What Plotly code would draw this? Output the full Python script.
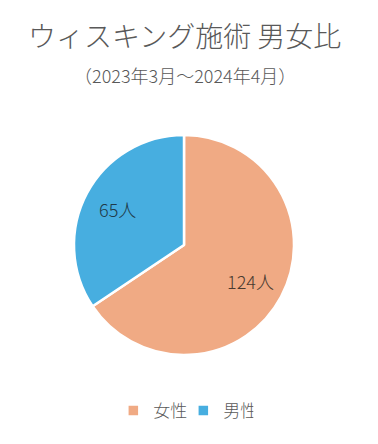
import math
import plotly.graph_objects as go

labels = ["女性", "男性"]
values = [124, 65]
texts = ["124人", "65人"]
colors = ["#F0AA84", "#47AEE0"]
text_colors = ["#4A3A30", "#1F3A4A"]

W, H = 378, 444
cx, cy, r = 184, 245, 110

fig = go.Figure(go.Pie(
    labels=labels,
    values=values,
    textinfo="none",
    marker=dict(colors=colors, line=dict(color="white", width=2.5)),
    sort=False,
    direction="clockwise",
    rotation=0,
    hole=0,
    domain=dict(x=[(cx - r) / W, (cx + r) / W], y=[1 - (cy + r) / H, 1 - (cy - r) / H]),
))

# slice labels placed at mid-angle of each slice
annotations = []
total = sum(values)
start = 0.0
for v, t, c in zip(values, texts, text_colors):
    span = v / total * 360
    mid = math.radians(start + span / 2)
    start += span
    d = 0.69 * r
    px = cx + d * math.sin(mid)
    py = cy - d * math.cos(mid)
    annotations.append(dict(text=t, x=px / W, y=1 - py / H, xref="paper", yref="paper",
                            showarrow=False, xanchor="center", yanchor="middle",
                            font=dict(size=18, color=c, family="Noto Sans CJK JP", weight=300)))

annotations += [
    dict(text="ウィスキング施術 男女比", x=0.487, y=1 - 35 / H, xref="paper", yref="paper",
         showarrow=False, xanchor="center", yanchor="middle",
         font=dict(size=28, color="#595959", family="Noto Sans CJK JP", weight=300)),
    dict(text="（2023年3月～2024年4月）", x=0.49, y=1 - 75 / H, xref="paper", yref="paper",
         showarrow=False, xanchor="center", yanchor="middle",
         font=dict(size=18, color="#595959", family="Noto Sans CJK JP", weight=300)),
]

fig.update_layout(
    width=W, height=H,
    margin=dict(l=0, r=0, t=0, b=0),
    paper_bgcolor="white",
    plot_bgcolor="white",
    showlegend=True,
    legend=dict(
        orientation="h", x=0.485, xanchor="center", y=1 - 411 / H, yanchor="middle",
        font=dict(size=17, color="#595959", family="Noto Sans CJK JP", weight=300),
        itemwidth=30, entrywidth=25,
    ),
    annotations=annotations,
)

fig.write_html("out.html")
